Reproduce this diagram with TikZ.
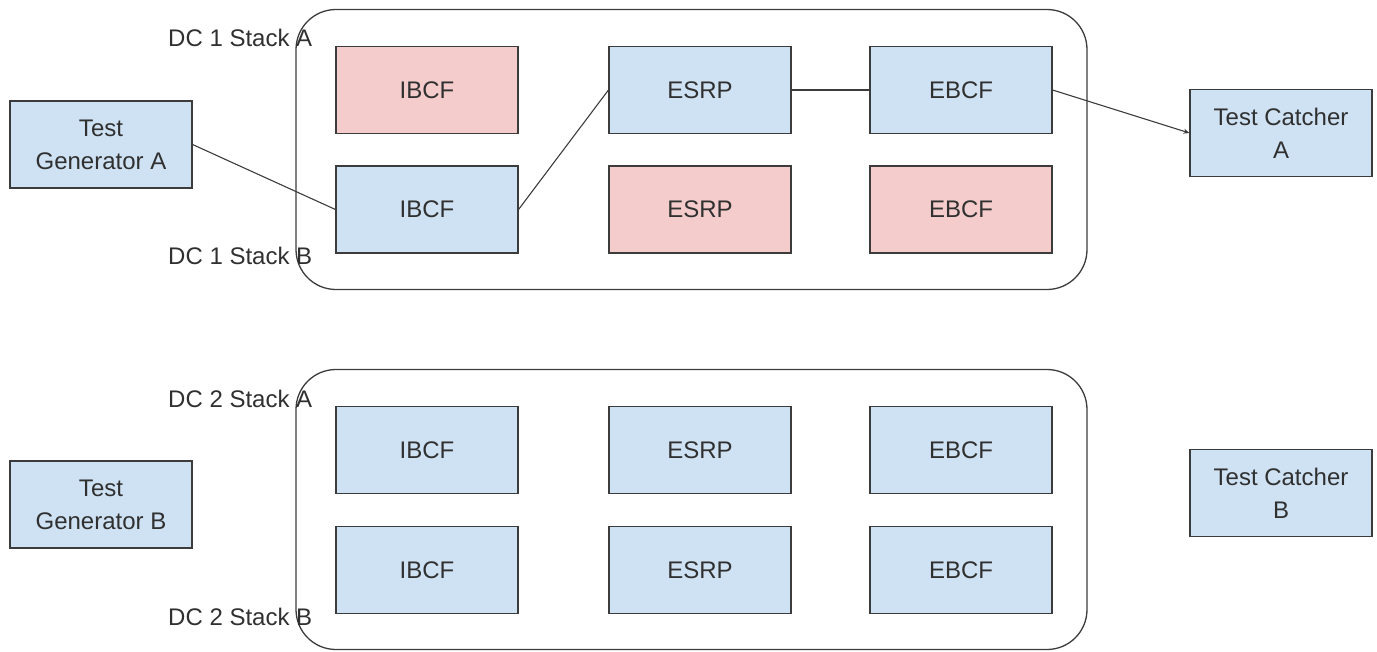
\documentclass[tikz,border=0pt]{standalone}
\usepackage{fontspec}
\setmainfont{Liberation Sans}
\usetikzlibrary{arrows.meta}
\definecolor{boxblue}{HTML}{CFE2F3}
\definecolor{boxpink}{HTML}{F4CCCC}
\definecolor{edge}{HTML}{3C3C3C}
\definecolor{ink}{HTML}{303030}
\tikzset{
  unit/.style={draw=edge, line width=1.1pt, fill=boxblue, minimum width=182pt,
    minimum height=87pt, inner sep=0pt, text=ink, align=center,
    font=\fontsize{24}{33}\selectfont},
  standby/.style={unit, fill=boxpink},
  dcframe/.style={draw=edge, line width=1.3pt, rounded corners=40pt,
    minimum width=791pt, minimum height=280pt, inner sep=0pt},
  stacklabel/.style={anchor=west, inner sep=0pt, text=ink,
    font=\fontsize{24}{28}\selectfont},
  link/.style={draw=edge, line width=1.1pt},
}
\begin{document}
\begin{tikzpicture}[x=1pt, y=-1pt]
\useasboundingbox (0,0) rectangle (1377,651);

% data-centre frames
\node[dcframe] (dc1) at (691.5,149.5) {};
\node[dcframe] (dc2) at (691.5,509.5) {};

% DC 1
\node[standby] (ibcf1a) at (427,90) {IBCF};
\node[unit]    (esrp1a) at (700,90) {ESRP};
\node[unit]    (ebcf1a) at (961,90) {EBCF};
\node[unit]    (ibcf1b) at (427,209.5) {IBCF};
\node[standby] (esrp1b) at (700,209.5) {ESRP};
\node[standby] (ebcf1b) at (961,209.5) {EBCF};

% DC 2
\node[unit] (ibcf2a) at (427,450) {IBCF};
\node[unit] (esrp2a) at (700,450) {ESRP};
\node[unit] (ebcf2a) at (961,450) {EBCF};
\node[unit] (ibcf2b) at (427,570) {IBCF};
\node[unit] (esrp2b) at (700,570) {ESRP};
\node[unit] (ebcf2b) at (961,570) {EBCF};

% stack labels
\node[stacklabel] (l1a) at (168,38)  {DC 1 Stack A};
\node[stacklabel] (l1b) at (168,256) {DC 1 Stack B};
\node[stacklabel] (l2a) at (168,399) {DC 2 Stack A};
\node[stacklabel] (l2b) at (168,617) {DC 2 Stack B};

% test endpoints
\node[unit] (tga) at (101,144.5) {Test\\Generator A};
\node[unit] (tgb) at (101,504.5) {Test\\Generator B};
\node[unit] (tca) at (1281,133)  {Test Catcher\\A};
\node[unit] (tcb) at (1281,493)  {Test Catcher\\B};

% call path
\draw[link] (tga.east) -- (ibcf1b.west);
\draw[link] (ibcf1b.east) -- (esrp1a.west);
\draw[link] (esrp1a.east) -- (ebcf1a.west);
\draw[link, -{Stealth[length=6pt,width=5pt]}] (ebcf1a.east) -- (tca.west);
\end{tikzpicture}
\end{document}
